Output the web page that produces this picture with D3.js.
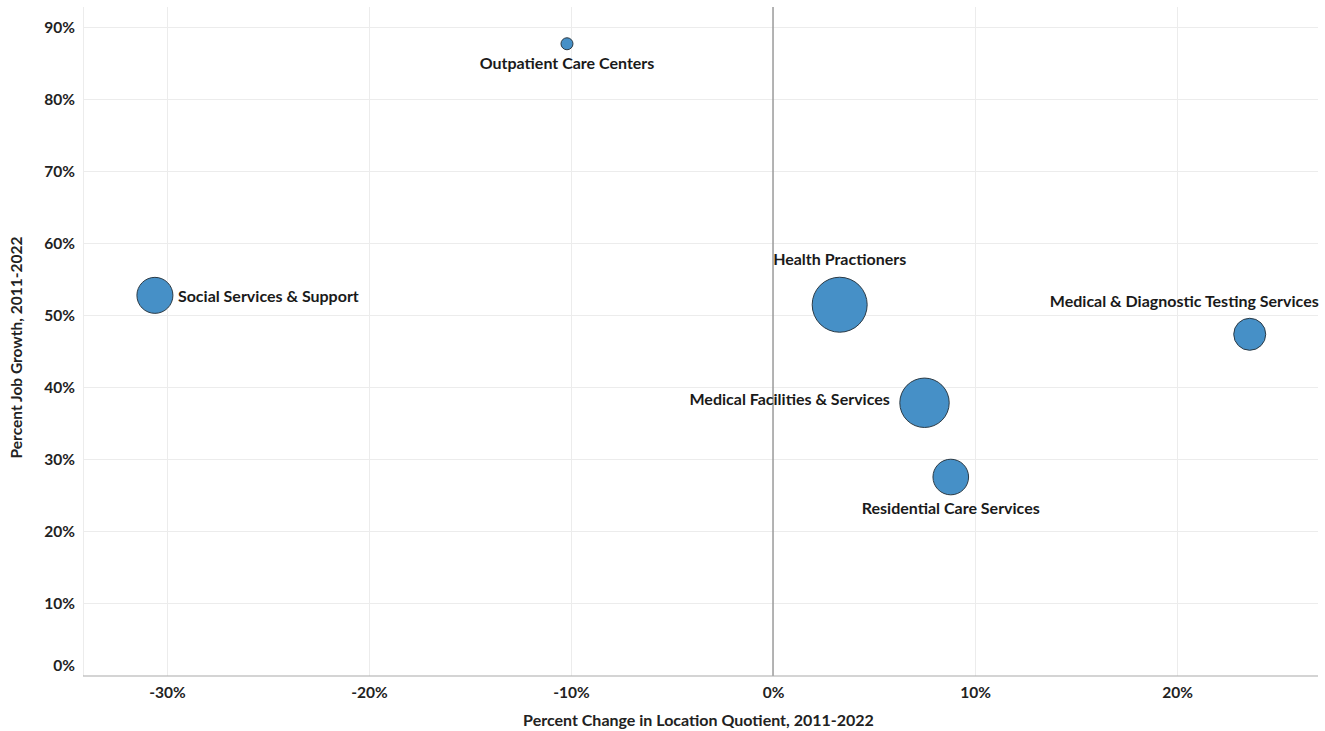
<!DOCTYPE html>
<html>
<head>
<meta charset="utf-8">
<script src="https://cdn.jsdelivr.net/npm/d3@7"></script>
<style>
  html, body { margin: 0; padding: 0; background: #fff; }
  svg { display: block; font-family: Lato, "Open Sans", sans-serif; }
</style>
</head>
<body>
<svg id="chart" width="1325" height="731"></svg>
<script>
// ---- data ----
const categories = [
  "Outpatient Care Centers",
  "Social Services & Support",
  "Health Practioners",
  "Medical & Diagnostic Testing Services",
  "Medical Facilities & Services",
  "Residential Care Services"
];
const lqChange  = [-0.102, -0.306, 0.033, 0.236, 0.075, 0.088];   // x
const jobGrowth = [0.877, 0.528, 0.515, 0.474, 0.379, 0.276];     // y
const sizeValue = [3600, 32400, 75600, 25600, 61000, 31700];       // bubble size
const labelPos  = ["below", "right", "above", "above-left", "left", "below"];
const xTicks = [-0.3, -0.2, -0.1, 0, 0.1, 0.2];
const yTicks = [0, 0.1, 0.2, 0.3, 0.4, 0.5, 0.6, 0.7, 0.8, 0.9];

// ---- layout ----
const svg = d3.select("#chart");
const pLeft = 83, pRight = 1318, pTop = 7, pBottom = 676;

const x = d3.scaleLinear().domain([-0.3416, 0.2698]).range([pLeft, pRight]);
const y = d3.scaleLinear().domain([0, 0.928]).range([pBottom, pTop]);
const r = d3.scaleSqrt().domain([0, d3.max(sizeValue)]).range([0, 27.5]);
const pct = v => d3.format(".0%")(v).replace("\u2212", "-");

// gridlines
const grid = svg.append("g");
grid.selectAll("line.v").data(xTicks.filter(d => d !== 0)).join("line")
  .attr("x1", d => x(d)).attr("x2", d => x(d))
  .attr("y1", pTop).attr("y2", pBottom)
  .attr("stroke", "#ececec").attr("stroke-width", 1).attr("shape-rendering", "crispEdges");
grid.append("line").attr("x1", pLeft).attr("x2", pLeft).attr("y1", pTop).attr("y2", pBottom)
  .attr("stroke", "#ececec").attr("shape-rendering", "crispEdges");
grid.selectAll("line.h").data(yTicks.filter(d => d !== 0)).join("line")
  .attr("x1", pLeft).attr("x2", pRight)
  .attr("y1", d => y(d)).attr("y2", d => y(d))
  .attr("stroke", "#ececec").attr("stroke-width", 1).attr("shape-rendering", "crispEdges");

// zero line + x axis baseline
svg.append("line").attr("x1", x(0)).attr("x2", x(0)).attr("y1", pTop).attr("y2", pBottom)
  .attr("stroke", "#9a9a9a").attr("stroke-width", 1.5);
svg.append("line").attr("x1", pLeft).attr("x2", pRight).attr("y1", pBottom).attr("y2", pBottom)
  .attr("stroke", "#aaaaaa").attr("stroke-width", 1.2);

// axes
const xAxis = svg.append("g").attr("transform", `translate(0,${pBottom})`)
  .call(d3.axisBottom(x).tickValues(xTicks).tickFormat(pct).tickSize(0).tickPadding(11));
xAxis.select(".domain").remove();
xAxis.selectAll("text").attr("font-size", 15.5).attr("font-weight", 700).attr("fill", "#222")
  .attr("font-family", "Lato, sans-serif");

const yAxis = svg.append("g").attr("transform", `translate(${pLeft},0)`)
  .call(d3.axisLeft(y).tickValues(yTicks).tickFormat(pct).tickSize(0).tickPadding(8));
yAxis.select(".domain").remove();
yAxis.selectAll("text").attr("font-size", 15.5).attr("font-weight", 700).attr("fill", "#222")
  .attr("font-family", "Lato, sans-serif")
  .attr("dy", d => d === 0 ? "-0.35em" : "0.32em");

// axis titles
svg.append("text").attr("x", (pLeft + pRight) / 2 - 2).attr("y", 726)
  .attr("text-anchor", "middle").attr("font-size", 16).attr("font-weight", 700).attr("fill", "#222")
  .text("Percent Change in Location Quotient, 2011-2022");
svg.append("text").attr("transform", `translate(22,${(pTop + pBottom) / 2 + 6}) rotate(-90)`)
  .attr("text-anchor", "middle").attr("font-size", 15.5).attr("font-weight", 700).attr("fill", "#222")
  .text("Percent Job Growth, 2011-2022");

// bubbles
const data = categories.map((c, i) => ({
  name: c, x: lqChange[i], y: jobGrowth[i], s: sizeValue[i], pos: labelPos[i]
}));

svg.append("g").selectAll("circle").data(data).join("circle")
  .attr("cx", d => x(d.x)).attr("cy", d => y(d.y)).attr("r", d => r(d.s))
  .attr("fill", "#4690c7").attr("stroke", "#2b3a45").attr("stroke-width", 1);

// labels
svg.append("g").selectAll("text").data(data).join("text")
  .attr("font-size", 16).attr("font-weight", 700).attr("fill", "#1a1a1a")
  .text(d => d.name)
  .each(function (d) {
    const cx = x(d.x), cy = y(d.y), rr = r(d.s);
    const t = d3.select(this);
    if (d.pos === "below") {
      t.attr("x", cx).attr("y", cy + rr + 14).attr("text-anchor", "middle").attr("dy", "0.35em");
    } else if (d.pos === "above") {
      t.attr("x", cx).attr("y", cy - rr - 18).attr("text-anchor", "middle").attr("dy", "0.35em");
    } else if (d.pos === "above-left") {
      t.attr("x", cx + 69).attr("y", cy - rr - 17).attr("text-anchor", "end").attr("dy", "0.35em");
    } else if (d.pos === "left") {
      t.attr("x", cx - rr - 10).attr("y", cy - 3).attr("text-anchor", "end").attr("dy", "0.35em");
    } else {
      t.attr("x", cx + rr + 5).attr("y", cy + 1).attr("text-anchor", "start").attr("dy", "0.35em");
    }
  });
</script>
</body>
</html>
